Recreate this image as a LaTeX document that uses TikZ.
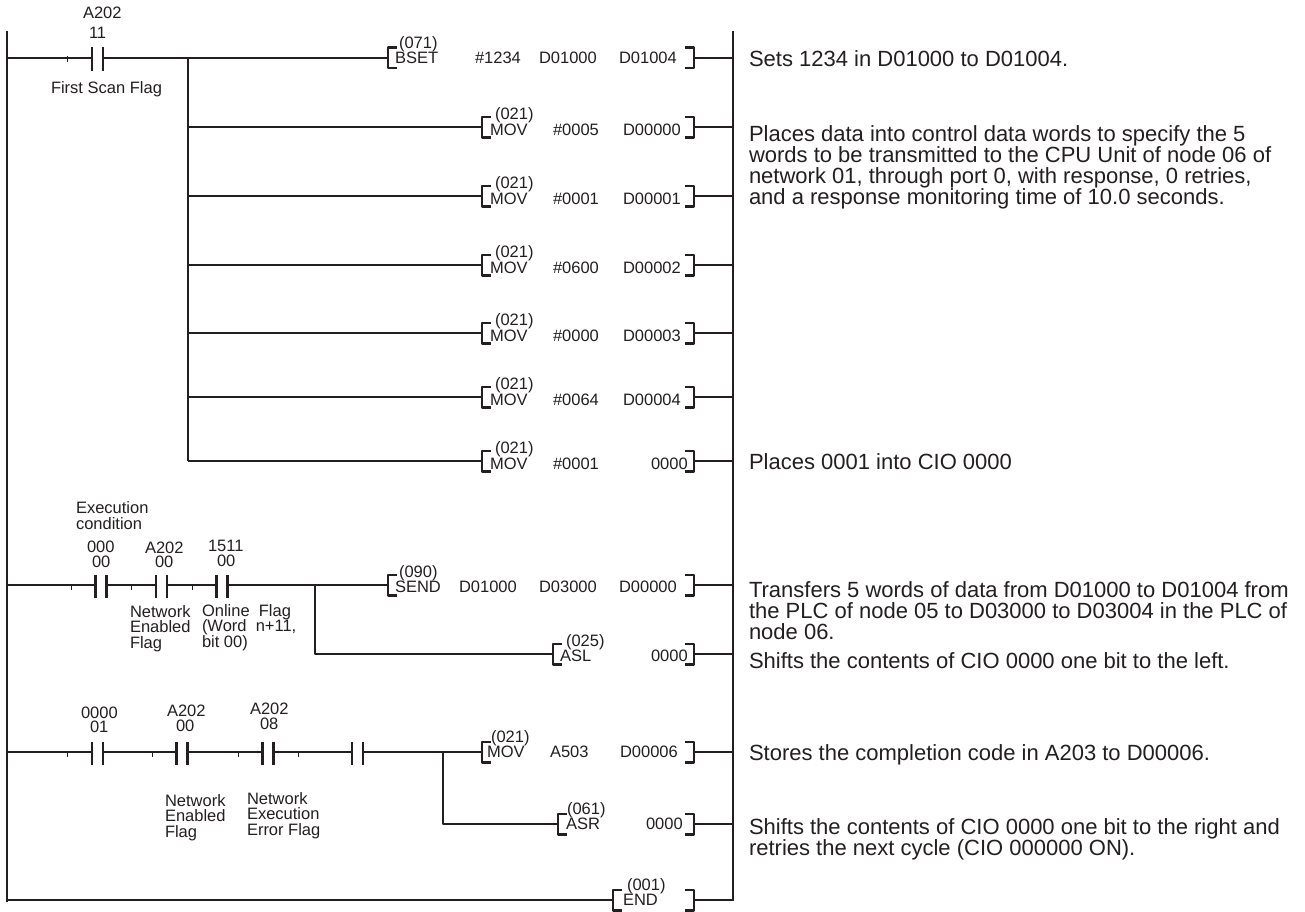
\documentclass[tikz,border=0pt]{standalone}
\usepackage{fontspec}
\setmainfont{Liberation Sans}
\definecolor{ink}{HTML}{231F20}
\newcounter{lb}
\lineskiplimit=-30pt
\tikzset{
  x=1pt,y=-1pt,
  wire/.style={draw=ink,line width=2.6pt,line cap=butt,line join=round},
  rail/.style={draw=ink,line width=2.9pt},
  barline/.style={draw=ink,line width=2.9pt},
  tickline/.style={draw=ink,line width=0.7pt},
  brline/.style={draw=ink,line width=2.5pt,line join=round},
  contactbox/.style={minimum width=11pt,minimum height=23.5pt,inner sep=0pt,outer sep=0pt},
  brbox/.style={minimum width=9pt,minimum height=20.5pt,inner sep=0pt,outer sep=0pt},
  lab/.style={anchor=base west,inner sep=0pt,outer sep=0pt,text=ink,align=left,
    font=\fontsize{16.5}{15.2}\selectfont},
  note/.style={anchor=base west,inner sep=0pt,outer sep=0pt,text=ink,align=left,
    font=\fontsize{22}{20.8}\selectfont},
}
\newcommand{\lab}[3]{\stepcounter{lb}\node[lab] (t\arabic{lb}) at (#1,#2) {#3};}
\newcommand{\note}[3]{\stepcounter{lb}\node[note] (t\arabic{lb}) at (#1,#2) {#3};}
% contact: name, x of centre, y
\newcommand{\contact}[3]{\node[contactbox] (#1) at (#2,#3) {};
  \draw[barline] (#1.north west) -- (#1.south west);
  \draw[barline] (#1.north east) -- (#1.south east);}
\newcommand{\ltick}[1]{\draw[tickline] ([shift={(-24.5pt,-3pt)}]#1.west) -- ([shift={(-24.5pt,3pt)}]#1.west);}
\newcommand{\rtick}[1]{\draw[tickline] ([shift={(25pt,-3pt)}]#1.east) -- ([shift={(25pt,3pt)}]#1.east);}
% brackets: name, x of centre, y
\newcommand{\lbr}[3]{\node[brbox] (#1) at (#2,#3) {};
  \draw[brline] (#1.north east) -- (#1.north west) -- (#1.south west) -- (#1.south east);}
\newcommand{\rbr}[3]{\node[brbox] (#1) at (#2,#3) {};
  \draw[brline] (#1.north west) -- (#1.north east) -- (#1.south east) -- (#1.south west);}
\begin{document}
\begin{tikzpicture}
\useasboundingbox (0,0) rectangle (1305,911);
\fill[white] (0,0) rectangle (1305,911);
% rails
\coordinate (LT) at (7,31); \coordinate (LB) at (7,902);
\coordinate (RT) at (733,31); \coordinate (RB) at (733,901.2);
\draw[rail] (LT) -- (LB);
\draw[rail] (RT) -- (RB);

% ---- rung 1
\coordinate (L1) at (7,58); \coordinate (R1) at (733,58);
\contact{c1}{97.5}{59}
\ltick{c1}
\coordinate (J1) at (188,58);
\lbr{b1}{392.5}{57.5} \rbr{e1}{689.5}{57.5}
\draw[wire] (L1) -- (c1.west|-L1);
\draw[wire] (c1.east|-L1) -- (J1) -- (b1.west|-J1);
\draw[wire] (e1.east|-R1) -- (R1);
\lab{83}{18}{A202}
\lab{89}{38.5}{11}
\lab{51}{93}{First Scan Flag}
\lab{399}{48}{(071)}
\lab{395}{63}{BSET}
\lab{475}{63}{\#1234}
\lab{539}{63}{D01000}
\lab{619}{63}{D01004}

% ---- MOV rows
\coordinate (J2) at (188,127); \coordinate (R2) at (733,127);
\lbr{b2}{486.5}{127} \rbr{e2}{689.5}{127}
\coordinate (J3) at (188,196); \coordinate (R3) at (733,196);
\lbr{b3}{486.5}{196} \rbr{e3}{689.5}{196}
\coordinate (J4) at (188,265); \coordinate (R4) at (733,265);
\lbr{b4}{486.5}{265} \rbr{e4}{689.5}{265}
\coordinate (J5) at (188,333); \coordinate (R5) at (733,333);
\lbr{b5}{486.5}{333} \rbr{e5}{689.5}{333}
\coordinate (J6) at (188,397); \coordinate (R6) at (733,397);
\lbr{b6}{486.5}{397} \rbr{e6}{689.5}{397}
\coordinate (J7) at (188,461); \coordinate (R7) at (733,461);
\lbr{b7}{486.5}{461} \rbr{e7}{689.5}{461}
\draw[wire] (J1) -- (J7);
\foreach \i in {2,...,7}{
  \draw[wire] (J\i) -- (b\i);
  \draw[wire] (e\i) -- (R\i);
}
\lab{495}{119}{(021)} \lab{490}{135}{MOV} \lab{553}{135}{\#0005} \lab{623}{135}{D00000}
\lab{495}{188}{(021)} \lab{490}{204}{MOV} \lab{553}{204}{\#0001} \lab{623}{204}{D00001}
\lab{495}{257}{(021)} \lab{490}{273}{MOV} \lab{553}{273}{\#0600} \lab{623}{273}{D00002}
\lab{495}{325}{(021)} \lab{490}{341}{MOV} \lab{553}{341}{\#0000} \lab{623}{341}{D00003}
\lab{495}{389}{(021)} \lab{490}{405}{MOV} \lab{553}{405}{\#0064} \lab{623}{405}{D00004}
\lab{495}{453}{(021)} \lab{490}{469}{MOV} \lab{553}{469}{\#0001} \lab{651}{469}{0000}

% ---- rung 2
\coordinate (L8) at (7,585); \coordinate (R8) at (733,585);
\contact{c2}{101}{586.5} \contact{c3}{161.5}{586.5} \contact{c4}{222}{586.5}
\ltick{c2} \ltick{c3} \ltick{c4}
\coordinate (J8) at (315,585);
\lbr{b8}{392.5}{585} \rbr{e8}{689.5}{585}
\draw[wire] (L8) -- (c2.west|-L8);
\draw[wire] (c2.east|-L8) -- (c3.west|-L8);
\draw[wire] (c3.east|-L8) -- (c4.west|-L8);
\draw[wire] (c4.east|-L8) -- (J8) -- (b8.west|-J8);
\draw[wire] (e8) -- (R8);
\coordinate (K8) at (315,654); \coordinate (R9) at (733,654);
\lbr{b9}{557.5}{654} \rbr{e9}{689.5}{654}
\draw[wire] (J8) -- (K8) -- (b9);
\draw[wire] (e9) -- (R9);
\lab{76}{529}{Execution\\condition}
\lab{87}{552}{000}  \lab{92}{567}{00}
\lab{145}{553}{A202} \lab{155}{567}{00}
\lab{208}{551}{1511} \lab{217}{566}{00}
\lab{130}{648}{Network\\Enabled\\Flag}
\lab{202}{647}{Online\ \ Flag\\(Word\ \ n+11,\\bit 00)}
\lab{399}{577}{(090)} \lab{395}{592}{SEND}
\lab{459}{592}{D01000} \lab{539}{592}{D03000} \lab{619}{592}{D00000}
\lab{566}{646}{(025)} \lab{560}{661}{ASL} \lab{651}{661}{0000}

% ---- rung 3
\coordinate (L10) at (7,752); \coordinate (R10) at (733,752);
\contact{c5}{97.5}{753.5} \contact{c6}{182}{753.5} \contact{c7}{268}{753.5} \contact{c8}{357.5}{753.5}
\ltick{c5} \ltick{c6} \ltick{c7} \rtick{c7}
\coordinate (J10) at (443,752);
\lbr{b10}{486.5}{752} \rbr{e10}{689.5}{752}
\draw[wire] (L10) -- (c5.west|-L10);
\draw[wire] (c5.east|-L10) -- (c6.west|-L10);
\draw[wire] (c6.east|-L10) -- (c7.west|-L10);
\draw[wire] (c7.east|-L10) -- (c8.west|-L10);
\draw[wire] (c8.east|-L10) -- (J10) -- (b10.west|-J10);
\draw[wire] (e10) -- (R10);
\coordinate (K10) at (443,824); \coordinate (R11) at (733,824);
\lbr{b11}{562.5}{824} \rbr{e11}{689.5}{824}
\draw[wire] (J10) -- (K10) -- (b11);
\draw[wire] (e11) -- (R11);
\lab{81}{718}{0000} \lab{90}{732}{01}
\lab{167}{716}{A202} \lab{176}{731}{00}
\lab{250}{714}{A202} \lab{260}{729}{08}
\lab{165}{837}{Network\\Enabled\\Flag}
\lab{247}{835}{Network\\Execution\\Error Flag}
\lab{491}{742}{(021)} \lab{487}{757}{MOV} \lab{550}{757}{A503} \lab{620}{757}{D00006}
\lab{567}{814}{(061)} \lab{566}{829}{ASR} \lab{646}{829}{0000}

% ---- END
\coordinate (L12) at (7,900); \coordinate (R12) at (733,900);
\lbr{b12}{617.5}{900} \rbr{e12}{689.5}{900}
\draw[wire] (L12) -- (b12);
\draw[wire] (e12) -- (R12);
\lab{627}{890}{(001)} \lab{623}{905}{END}

% ---- notes
\note{749}{66.7}{Sets 1234 in D01000 to D01004.}
\note{749}{204}{Places data into control data words to specify the 5\\words to be transmitted to the CPU Unit of node 06 of\\network 01, through port 0, with response, 0 retries,\\and a response monitoring time of 10.0 seconds.}
\note{749}{469}{Places 0001 into CIO 0000}
\note{749}{639.3}{Transfers 5 words of data from D01000 to D01004 from\\the PLC of node 05 to D03000 to D03004 in the PLC of\\node 06.}
\note{749}{668.7}{Shifts the contents of CIO 0000 one bit to the left.}
\note{749}{760}{Stores the completion code in A203 to D00006.}
\note{749}{855}{Shifts the contents of CIO 0000 one bit to the right and\\retries the next cycle (CIO 000000 ON).}
\end{tikzpicture}
\end{document}
